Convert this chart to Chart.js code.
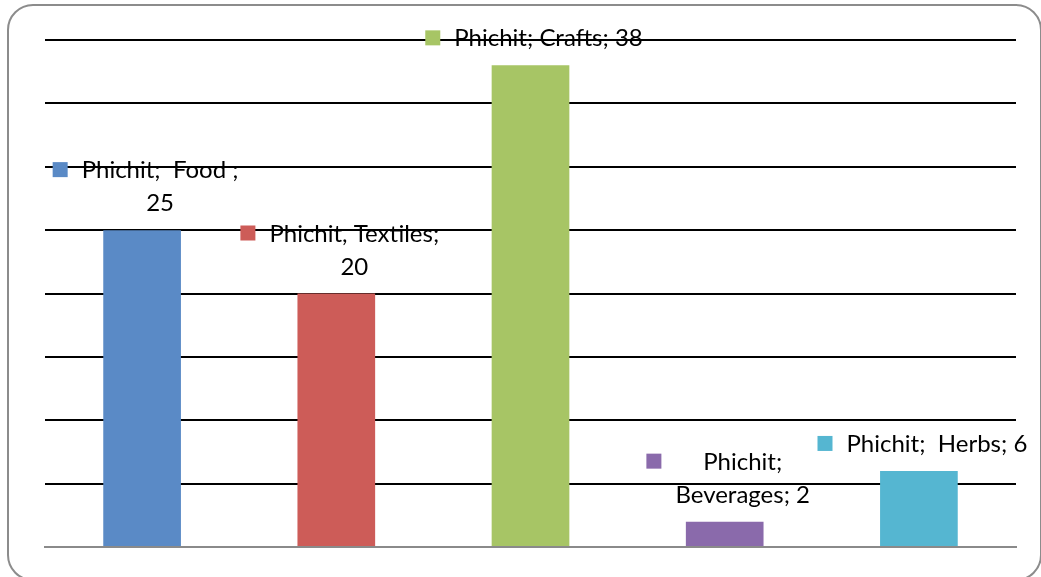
<!DOCTYPE html>
<html>
<head>
<meta charset="utf-8">
<script src="https://cdn.jsdelivr.net/npm/chart.js@4"></script>
<style>
  html, body { margin: 0; padding: 0; background: #fff; overflow: hidden; }
  #wrap { position: relative; width: 1041px; height: 577px; }
  #frame {
    position: absolute; left: 7px; top: 4px; width: 1031px; height: 573px;
    border: 2px solid #8c8c8c; border-radius: 26px;
  }
  canvas { position: absolute; left: 0; top: 0; }
</style>
</head>
<body>
<div id="wrap">
  <div id="frame"></div>
  <canvas id="chart" width="1041" height="577"></canvas>
</div>
<script>
const categories = ['Food', 'Textiles', 'Crafts', 'Beverages', 'Herbs'];
const values = [25, 20, 38, 2, 6];
const barColors = ['#5a8ac6', '#cd5c58', '#a7c565', '#8a6aab', '#55b6d1'];
// data label text, split into lines as in the picture
const labelLines = [
  ['Phichit;  Food ;', '25'],
  ['Phichit, Textiles;', '20'],
  ['Phichit; Crafts; 38'],
  ['Phichit;', 'Beverages; 2'],
  ['Phichit;  Herbs; 6']
];

// Draw the Excel style data labels with their little legend keys
const dataLabels = {
  id: 'dataLabels',
  afterDatasetsDraw(chart) {
    const ctx = chart.ctx;
    const meta = chart.getDatasetMeta(0);
    ctx.save();
    ctx.font = '24px Lato';
    ctx.fillStyle = '#000';
    ctx.textAlign = 'center';
    ctx.textBaseline = 'alphabetic';
    meta.data.forEach((bar, i) => {
      const lines = labelLines[i];
      const cx = bar.x + 18;
      const lastBase = bar.y - 19;
      const lineH = 33;
      let widest = 0;
      lines.forEach((line, j) => {
        const base = lastBase - (lines.length - 1 - j) * lineH;
        ctx.fillText(line, cx, base);
        widest = Math.max(widest, ctx.measureText(line).width);
      });
      const firstBase = lastBase - (lines.length - 1) * lineH;
      const keyRight = cx - widest / 2 - 14;
      ctx.fillStyle = barColors[i];
      ctx.fillRect(keyRight - 15, firstBase - 16, 15, 15);
      ctx.fillStyle = '#000';
    });
    ctx.restore();
  }
};

const ctx = document.getElementById('chart').getContext('2d');
new Chart(ctx, {
  type: 'bar',
  data: {
    labels: categories,
    datasets: [{
      data: values,
      backgroundColor: barColors,
      borderWidth: 0,
      categoryPercentage: 1,
      barPercentage: 0.4
    }]
  },
  options: {
    responsive: false,
    animation: false,
    layout: { padding: { left: 45, right: 25, top: 40, bottom: 30 } },
    plugins: {
      legend: { display: false },
      tooltip: { enabled: false }
    },
    scales: {
      x: {
        ticks: { display: false },
        grid: { display: false, drawTicks: false },
        border: { display: true, color: '#8a8a8a', width: 2 }
      },
      y: {
        min: 0,
        max: 40,
        ticks: { display: false, stepSize: 5 },
        grid: { color: '#000', lineWidth: 2, drawTicks: false },
        border: { display: false }
      }
    }
  },
  plugins: [dataLabels]
});
</script>
</body>
</html>
